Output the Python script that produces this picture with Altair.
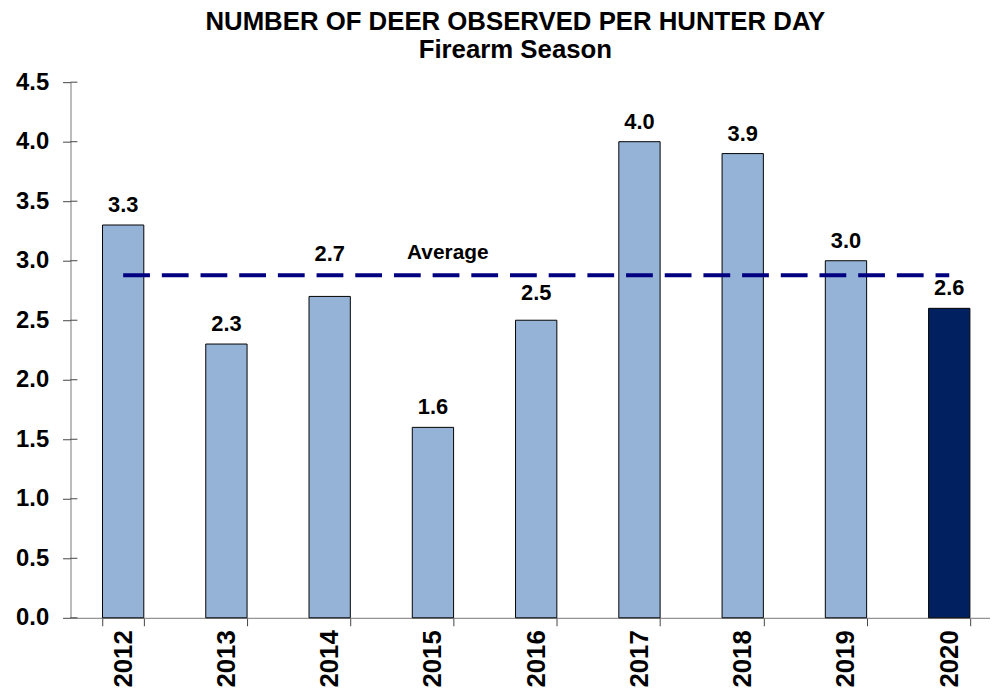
import altair as alt
import pandas as pd

years = ["2012", "2013", "2014", "2015", "2016", "2017", "2018", "2019", "2020"]
values = [3.3, 2.3, 2.7, 1.6, 2.5, 4.0, 3.9, 3.0, 2.6]
colors = ["#95B3D7"] * 8 + ["#002060"]
average = round(sum(values) / len(values), 3)
avg_label = "Average"
avg_label_year = "2015"
y_ticks = [0, 0.5, 1.0, 1.5, 2.0, 2.5, 3.0, 3.5, 4.0, 4.5]

df = pd.DataFrame({"year": years, "value": values, "color": colors})
avg_df = pd.DataFrame({"x1": [years[0]], "x2": [years[-1]], "avg": [average]})
lab_df = pd.DataFrame({"year": [avg_label_year], "avg": [average], "text": [avg_label]})
tick_df = pd.DataFrame({"t": y_ticks})

FONT = "Liberation Sans"
XS = alt.Scale(range=[0, 939], paddingInner=0.6, paddingOuter=0.31)

x = alt.X("year:N", sort=years, title=None, scale=XS,
          axis=alt.Axis(labelAngle=-90, labelFont=FONT, labelFontSize=26, labelFontWeight="bold",
                        labelColor="black", labelAlign="right", labelBaseline="middle", labelPadding=4,
                        tickBand="extent", tickSize=8, tickColor="#444", domainColor="#777"))

y = alt.Y("value:Q", title=None,
          scale=alt.Scale(domain=[0, 4.5], nice=False),
          axis=alt.Axis(values=y_ticks, format=".1f", grid=False, labelFont=FONT, labelFontSize=24,
                        labelFontWeight="bold", labelColor="black", labelPadding=14, tickSize=8,
                        tickColor="#444", domainColor="#777"))

xs = alt.X("year:N", sort=years)

bars = alt.Chart(df).mark_bar(stroke="black", strokeWidth=1).encode(
    x=x, y=y, color=alt.Color("color:N", scale=None)
)

inner_ticks = alt.Chart(tick_df).mark_rule(color="#444", strokeWidth=1).encode(
    y=alt.Y("t:Q"), x=alt.value(0), x2=alt.value(7)
)

label_style = dict(font=FONT, fontSize=22, fontWeight="bold", color="black")
txt = alt.Text("value:Q", format=".1f")

labels = alt.Chart(df).transform_filter(
    "datum.year != '2014' && datum.year != '2016'"
).mark_text(dy=-20, **label_style).encode(x=xs, y="value:Q", text=txt)

label_2014 = alt.Chart(df).transform_filter("datum.year == '2014'").mark_text(
    dy=-43, **label_style).encode(x=xs, y="value:Q", text=txt)

label_2016 = alt.Chart(df).transform_filter("datum.year == '2016'").mark_text(
    dy=-27, **label_style).encode(x=xs, y="value:Q", text=txt)

avg_line = alt.Chart(avg_df).mark_rule(color="#000080", strokeWidth=4, strokeDash=[27, 12]).encode(
    x=alt.X("x1:N", sort=years), x2="x2:N", y=alt.Y("avg:Q")
)

avg_text = alt.Chart(lab_df).mark_text(dx=15, dy=-22, font=FONT, fontSize=21, fontWeight="bold",
                                       color="black").encode(
    x=xs, y="avg:Q", text="text:N"
)

chart = alt.layer(bars, inner_ticks, labels, label_2014, label_2016, avg_line, avg_text).properties(
    width=927, height=540,
    padding={"left": 63, "top": 72, "right": 0, "bottom": 70},
    autosize=alt.AutoSizeParams(type="none"),
    title=alt.TitleParams(text=["NUMBER OF DEER OBSERVED PER HUNTER DAY", "Firearm Season"],
                          font=FONT, fontSize=26, fontWeight="bold", color="black",
                          anchor="middle", offset=7, lineHeight=29, dx=-15),
).configure_view(stroke=None)

chart.save("out.html", embed_options={"renderer": "svg", "actions": False})
